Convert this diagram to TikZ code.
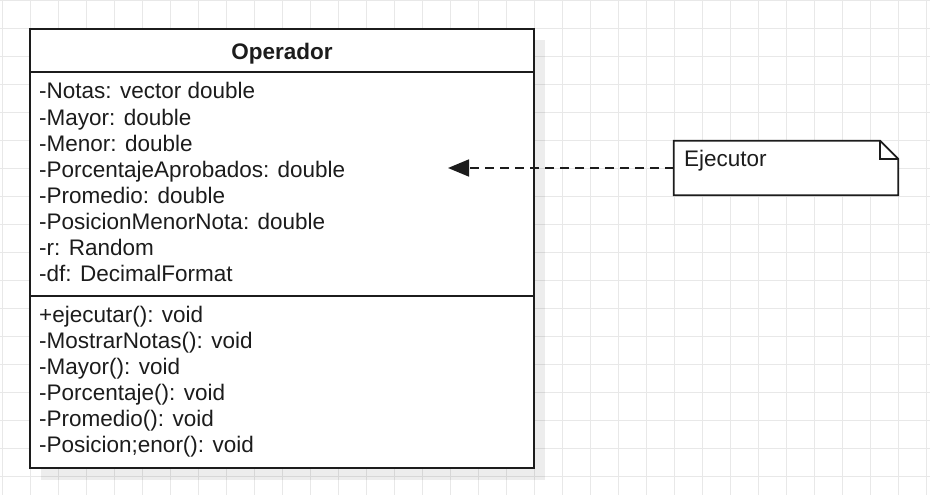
\documentclass[tikz,border=0pt]{standalone}
\usepackage{fontspec}
\setmainfont{Liberation Sans}
\usepackage{tikz}
\usetikzlibrary{arrows.meta}
\definecolor{gridgray}{RGB}{232,232,232}
\definecolor{ink}{RGB}{28,28,28}

\begin{document}
\begin{tikzpicture}[x=1pt,y=-1pt,
  member/.style={anchor=base west,inner sep=0pt,text=ink,font=\fontsize{22.5}{26}\selectfont},
  titlename/.style={anchor=base,inner sep=0pt,text=ink,font=\fontsize{22.5}{26}\selectfont\bfseries},
  outline/.style={draw=ink,line width=1.7pt},
  realize/.style={draw=ink,line width=1.6pt,dash pattern=on 9pt off 6pt,-{Triangle[length=21pt,width=17pt]}}]
\useasboundingbox (0,0) rectangle (930,495);
\fill[white] (0,0) rectangle (930,495);
\draw[gridgray,line width=1.3pt,shift={(2.7,0.7)},step=28pt] (-28,-28) grid (956,524);

% class Operador
\fill[black,opacity=0.07] (41,40) rectangle (545,480);
\node[outline,fill=white,inner sep=0pt,minimum width=504pt,minimum height=439pt] (operador) at (282,248.5) {};
\draw[outline] (30,72) -- (534,72);
\draw[outline] (30,296) -- (534,296);
\node[titlename] (titulo) at (282,60) {Operador};

\node[member] (notas) at (39,99) {-Notas: vector double};
\node[member] (mayor) at (39,125) {-Mayor: double};
\node[member] (menor) at (39,151) {-Menor: double};
\node[member] (porcentaje) at (39,177) {-PorcentajeAprobados: double};
\node[member] (promedio) at (39,203) {-Promedio: double};
\node[member] (posicion) at (39,229) {-PosicionMenorNota: double};
\node[member] (r) at (39,255) {-r: Random};
\node[member] (df) at (39,281) {-df: DecimalFormat};

\node[member] (ejecutar) at (39,322.7) {+ejecutar(): void};
\node[member] (mostrar) at (39,348.7) {-MostrarNotas(): void};
\node[member] (mmayor) at (39,374.7) {-Mayor(): void};
\node[member] (mporcentaje) at (39,400.7) {-Porcentaje(): void};
\node[member] (mpromedio) at (39,426.7) {-Promedio(): void};
\node[member] (mposicion) at (39,452.7) {-Posicion;enor(): void};

% note Ejecutor
\node[inner sep=0pt,minimum width=224pt,minimum height=54pt] (nota) at (786,168) {};
\draw[outline,fill=white,line join=miter] (nota.north west) -- ([xshift=-18pt]nota.north east)
  -- ([yshift=-18pt]nota.north east) -- (nota.south east) -- (nota.south west) -- cycle;
\draw[outline] ([xshift=-18pt]nota.north east) -- ([xshift=-18pt,yshift=-18pt]nota.north east)
  -- ([yshift=-18pt]nota.north east);
\node[member] (ejecutor) at (684,166.7) {Ejecutor};

\coordinate (tip) at (448,168);
\draw[realize] (nota.west) -- (tip);
\end{tikzpicture}
\end{document}
